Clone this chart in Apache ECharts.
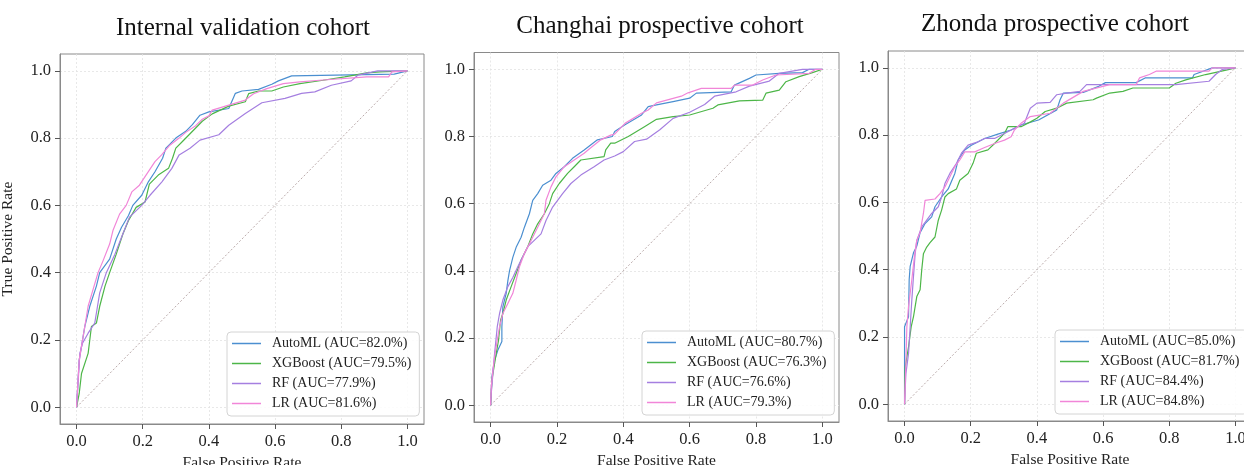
<!DOCTYPE html>
<html>
<head>
<meta charset="utf-8">
<script src="https://cdn.jsdelivr.net/npm/echarts@6/dist/echarts.min.js"></script>
<style>
html, body { margin: 0; padding: 0; background: #fff; }
#chart { width: 1244px; height: 465px; }
</style>
</head>
<body>
<div id="chart"></div>
<script>
// cohorts, models, AUC (%) read from the legends
var cohorts = ['Internal validation cohort', 'Changhai prospective cohort', 'Zhonda prospective cohort'];
var models = ['AutoML', 'XGBoost', 'RF', 'LR'];
var aucInternal = ['82.0', '79.5', '77.9', '81.6'];
var aucChanghai = ['80.7', '76.3', '76.6', '79.3'];
var aucZhonda = ['85.0', '81.7', '84.4', '84.8'];
var tickValues = [0, 0.2, 0.4, 0.6, 0.8, 1.0];
var diagonal = [[0, 0], [1, 1]];

// ROC points [FPR, TPR]
var internalAutoML = [[0,0],[0.008,0.14],[0.025,0.24],[0.04,0.30],[0.06,0.36],[0.07,0.40],[0.10,0.44],[0.12,0.50],[0.136,0.535],[0.157,0.57],[0.17,0.60],[0.197,0.63],[0.217,0.67],[0.237,0.70],[0.26,0.74],[0.27,0.77],[0.28,0.78],[0.30,0.80],[0.33,0.82],[0.35,0.84],[0.373,0.868],[0.40,0.878],[0.46,0.888],[0.48,0.933],[0.50,0.94],[0.55,0.945],[0.59,0.96],[0.61,0.97],[0.65,0.985],[0.96,0.99],[1,1]];
var internalXGB = [[0,0],[0.008,0.04],[0.015,0.10],[0.035,0.16],[0.045,0.24],[0.06,0.25],[0.07,0.30],[0.086,0.36],[0.10,0.40],[0.12,0.455],[0.14,0.515],[0.157,0.555],[0.18,0.594],[0.207,0.61],[0.22,0.663],[0.247,0.69],[0.278,0.71],[0.29,0.74],[0.30,0.77],[0.32,0.79],[0.34,0.81],[0.36,0.83],[0.38,0.85],[0.41,0.872],[0.46,0.895],[0.51,0.908],[0.52,0.932],[0.55,0.94],[0.59,0.94],[0.625,0.952],[0.675,0.962],[0.745,0.972],[0.81,0.982],[0.84,0.987],[0.877,0.994],[0.917,0.997],[1,1]];
var internalRF = [[0,0],[0.01,0.16],[0.018,0.19],[0.035,0.22],[0.055,0.25],[0.06,0.28],[0.07,0.34],[0.09,0.40],[0.116,0.455],[0.136,0.505],[0.16,0.565],[0.197,0.60],[0.222,0.63],[0.258,0.67],[0.288,0.71],[0.31,0.75],[0.343,0.77],[0.373,0.794],[0.43,0.81],[0.46,0.838],[0.51,0.873],[0.56,0.905],[0.63,0.918],[0.68,0.933],[0.72,0.9375],[0.77,0.957],[0.83,0.97],[0.85,0.987],[0.91,1.0],[1,1]];
var internalLR = [[0,0],[0.008,0.14],[0.025,0.24],[0.035,0.30],[0.05,0.35],[0.065,0.40],[0.08,0.435],[0.10,0.485],[0.11,0.525],[0.13,0.574],[0.15,0.60],[0.167,0.64],[0.19,0.66],[0.21,0.69],[0.237,0.73],[0.257,0.75],[0.28,0.777],[0.31,0.80],[0.33,0.817],[0.36,0.837],[0.38,0.856],[0.40,0.866],[0.41,0.883],[0.46,0.898],[0.51,0.913],[0.535,0.932],[0.575,0.947],[0.625,0.962],[0.675,0.967],[0.735,0.972],[0.877,0.982],[0.943,0.982],[0.953,0.997],[1,1]];

var changhaiAutoML = [[0,0],[0.004,0.085],[0.012,0.134],[0.022,0.164],[0.034,0.19],[0.034,0.233],[0.037,0.293],[0.047,0.333],[0.052,0.37],[0.057,0.40],[0.067,0.44],[0.077,0.47],[0.092,0.50],[0.102,0.53],[0.117,0.57],[0.127,0.61],[0.142,0.63],[0.157,0.655],[0.182,0.67],[0.197,0.69],[0.222,0.71],[0.247,0.735],[0.282,0.76],[0.322,0.79],[0.367,0.80],[0.374,0.815],[0.405,0.835],[0.455,0.864],[0.475,0.889],[0.50,0.894],[0.55,0.904],[0.60,0.914],[0.62,0.929],[0.725,0.933],[0.735,0.953],[0.78,0.973],[0.80,0.983],[0.87,0.988],[0.94,0.99],[0.96,1.0],[1,1]];
var changhaiXGB = [[0,0],[0.004,0.075],[0.012,0.124],[0.017,0.154],[0.024,0.194],[0.03,0.253],[0.037,0.273],[0.047,0.313],[0.062,0.353],[0.077,0.392],[0.092,0.432],[0.112,0.472],[0.127,0.51],[0.142,0.54],[0.162,0.57],[0.177,0.60],[0.187,0.63],[0.207,0.66],[0.232,0.69],[0.252,0.71],[0.272,0.73],[0.342,0.74],[0.347,0.76],[0.362,0.78],[0.374,0.78],[0.415,0.80],[0.465,0.83],[0.50,0.851],[0.55,0.859],[0.60,0.864],[0.67,0.884],[0.685,0.894],[0.75,0.906],[0.82,0.908],[0.83,0.929],[0.87,0.938],[0.89,0.963],[0.93,0.978],[0.97,0.99],[1,1]];
var changhaiRF = [[0,0],[0.002,0.035],[0.012,0.154],[0.02,0.233],[0.027,0.273],[0.037,0.313],[0.052,0.353],[0.067,0.38],[0.082,0.412],[0.102,0.452],[0.112,0.472],[0.152,0.51],[0.167,0.55],[0.187,0.59],[0.217,0.63],[0.242,0.66],[0.272,0.685],[0.312,0.71],[0.342,0.73],[0.374,0.742],[0.40,0.755],[0.434,0.785],[0.47,0.792],[0.51,0.82],[0.55,0.854],[0.60,0.872],[0.645,0.895],[0.675,0.92],[0.74,0.933],[0.78,0.95],[0.84,0.965],[0.87,0.988],[0.94,1.0],[1,1]];
var changhaiLR = [[0,0],[0.002,0.055],[0.007,0.104],[0.012,0.144],[0.02,0.194],[0.027,0.233],[0.037,0.273],[0.052,0.303],[0.067,0.333],[0.077,0.372],[0.087,0.412],[0.102,0.452],[0.122,0.49],[0.142,0.53],[0.162,0.57],[0.167,0.61],[0.182,0.65],[0.197,0.68],[0.222,0.71],[0.252,0.73],[0.282,0.75],[0.30,0.765],[0.332,0.79],[0.362,0.804],[0.374,0.807],[0.405,0.839],[0.455,0.869],[0.475,0.879],[0.50,0.90],[0.575,0.92],[0.595,0.93],[0.635,0.943],[0.725,0.943],[0.735,0.953],[0.79,0.953],[0.82,0.968],[0.86,0.983],[0.96,0.988],[0.98,1.0],[1,1]];

var zhondaAutoML = [[0,0],[0,0.23],[0.012,0.26],[0.014,0.37],[0.017,0.41],[0.027,0.45],[0.037,0.47],[0.042,0.49],[0.047,0.51],[0.062,0.537],[0.082,0.557],[0.092,0.587],[0.112,0.616],[0.132,0.64],[0.152,0.686],[0.162,0.726],[0.182,0.756],[0.202,0.77],[0.242,0.79],[0.282,0.803],[0.322,0.815],[0.352,0.83],[0.405,0.845],[0.46,0.875],[0.47,0.905],[0.48,0.925],[0.54,0.927],[0.587,0.945],[0.607,0.956],[0.70,0.956],[0.727,0.97],[0.87,0.97],[0.875,0.98],[0.93,1.0],[1,1]];
var zhondaXGB = [[0,0],[0.002,0.11],[0.012,0.17],[0.02,0.23],[0.027,0.26],[0.032,0.29],[0.037,0.32],[0.047,0.34],[0.052,0.40],[0.057,0.447],[0.067,0.467],[0.077,0.48],[0.092,0.497],[0.102,0.547],[0.112,0.577],[0.122,0.616],[0.132,0.626],[0.157,0.64],[0.167,0.666],[0.192,0.686],[0.207,0.716],[0.217,0.746],[0.252,0.756],[0.272,0.775],[0.302,0.805],[0.312,0.825],[0.352,0.825],[0.382,0.84],[0.40,0.85],[0.425,0.87],[0.46,0.88],[0.49,0.895],[0.57,0.905],[0.58,0.91],[0.62,0.925],[0.66,0.93],[0.69,0.94],[0.80,0.94],[0.82,0.954],[0.85,0.964],[0.91,0.98],[0.975,0.994],[1,1]];
var zhondaRF = [[0,0],[0.004,0.09],[0.012,0.15],[0.017,0.23],[0.022,0.31],[0.027,0.38],[0.032,0.447],[0.037,0.487],[0.052,0.527],[0.067,0.547],[0.082,0.567],[0.102,0.587],[0.112,0.616],[0.122,0.656],[0.137,0.686],[0.157,0.716],[0.172,0.746],[0.192,0.77],[0.222,0.78],[0.242,0.79],[0.272,0.79],[0.312,0.81],[0.342,0.825],[0.362,0.835],[0.38,0.88],[0.40,0.895],[0.44,0.897],[0.46,0.92],[0.49,0.925],[0.53,0.93],[0.55,0.95],[0.82,0.95],[0.92,0.96],[0.94,0.98],[0.96,0.995],[1,1]];
var zhondaLR = [[0,0],[0.004,0.12],[0.007,0.23],[0.012,0.29],[0.022,0.37],[0.03,0.44],[0.037,0.487],[0.047,0.51],[0.057,0.567],[0.062,0.606],[0.092,0.61],[0.107,0.626],[0.122,0.646],[0.137,0.676],[0.152,0.706],[0.167,0.726],[0.182,0.75],[0.212,0.75],[0.242,0.763],[0.272,0.775],[0.302,0.785],[0.322,0.795],[0.332,0.815],[0.352,0.835],[0.38,0.855],[0.44,0.865],[0.48,0.895],[0.54,0.93],[0.62,0.95],[0.70,0.95],[0.71,0.97],[0.74,0.98],[0.76,0.99],[0.92,0.99],[0.93,1.0],[1,1]];

var colors = ['#4b8fd0', '#4db648', '#a57fe0', '#f186d8'];
var font = '"Liberation Serif", "DejaVu Serif", serif';

var panels = [
    { title: cohorts[0], auc: aucInternal, curves: [internalAutoML, internalXGB, internalRF, internalLR],
      grid: { left: 60, top: 54, width: 364, height: 370 }, titleX: 238, titleY: 11,
      legend: { left: 227, top: 332 }, yName: 'True Positive Rate' },
    { title: cohorts[1], auc: aucChanghai, curves: [changhaiAutoML, changhaiXGB, changhaiRF, changhaiLR],
      grid: { left: 474, top: 52.5, width: 365, height: 369.5 }, titleX: 655, titleY: 9,
      legend: { left: 642, top: 331 }, yName: '' },
    { title: cohorts[2], auc: aucZhonda, curves: [zhondaAutoML, zhondaXGB, zhondaRF, zhondaLR],
      grid: { left: 888, top: 51, width: 364, height: 370 }, titleX: 1050, titleY: 7,
      legend: { left: 1055, top: 330 }, yName: '' }
];

var option = {
    animation: false,
    backgroundColor: '#fff',
    title: [], grid: [], xAxis: [], yAxis: [], legend: [], series: []
};

function axisCommon() {
    return {
        type: 'value', min: -0.05, max: 1.05,
        axisLine: { show: true, onZero: false, lineStyle: { color: '#8a8a8a', width: 1 } },
        axisTick: { show: true, length: 5, inside: false, customValues: tickValues, lineStyle: { color: '#555', width: 1 } },
        axisLabel: { customValues: tickValues, color: '#222', fontSize: 16.5, fontFamily: font,
                     formatter: function (v) { return v.toFixed(1); } },
        splitLine: { show: true, lineStyle: { color: '#e2e2e2', width: 0.8, type: [2, 2] } },
        nameTextStyle: { color: '#222', fontSize: 15.5, fontFamily: font }
    };
}

panels.forEach(function (p, i) {
    option.title.push({
        text: p.title, left: p.titleX, top: p.titleY, textAlign: 'center',
        textStyle: { fontFamily: font, fontSize: 25, fontWeight: 'normal', color: '#111' }
    });
    option.grid.push({
        left: p.grid.left, top: p.grid.top, width: p.grid.width, height: p.grid.height,
        outerBoundsMode: 'none', containLabel: false,
        show: true, borderColor: '#8a8a8a', borderWidth: 1, backgroundColor: 'transparent'
    });
    var xa = axisCommon();
    xa.gridIndex = i;
    xa.name = 'False Positive Rate';
    xa.nameLocation = 'middle';
    xa.nameGap = 28;
    xa.axisLabel.margin = 9;
    option.xAxis.push(xa);
    var ya = axisCommon();
    ya.gridIndex = i;
    ya.name = p.yName;
    ya.nameLocation = 'middle';
    ya.nameGap = 44;
    ya.axisLabel.margin = 9;
    option.yAxis.push(ya);

    option.series.push({
        type: 'line', name: 'chance' + i, xAxisIndex: i, yAxisIndex: i, data: diagonal,
        showSymbol: false, silent: true, z: 1,
        lineStyle: { color: '#a89494', width: 0.8, type: [2, 2] }
    });
    var names = [];
    models.forEach(function (m, k) {
        var nm = m + ' (AUC=' + p.auc[k] + '%)';
        names.push(nm);
        option.series.push({
            type: 'line', name: nm, xAxisIndex: i, yAxisIndex: i, data: p.curves[k],
            showSymbol: false, silent: true, z: 2 + k,
            color: colors[k],
            itemStyle: { color: colors[k] },
            lineStyle: { color: colors[k], width: 1.2 }
        });
    });
    option.legend.push({
        data: names, orient: 'vertical', left: p.legend.left, top: p.legend.top,
        icon: 'rect', itemWidth: 29, itemHeight: 1.5, itemGap: 5,
        padding: [4, 8, 5, 5],
        backgroundColor: 'rgba(255,255,255,0.85)', borderColor: '#d4d4d4', borderWidth: 1, borderRadius: 4,
        selectedMode: false,
        textStyle: { fontFamily: font, fontSize: 14, color: '#222', lineHeight: 15, padding: [0, 0, 0, 6] }
    });
});

var chart = echarts.init(document.getElementById('chart'));
chart.setOption(option);
</script>
</body>
</html>
